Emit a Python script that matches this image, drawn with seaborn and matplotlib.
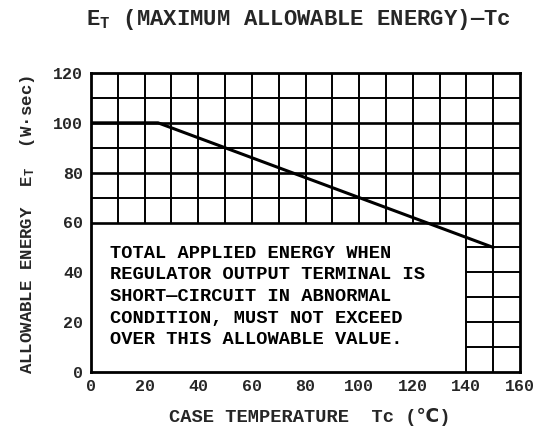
import matplotlib
matplotlib.use("Agg")
import matplotlib.pyplot as plt
import seaborn as sns
import numpy as np

# ---- data ----
temp = [0, 25, 150]            # case temperature Tc (degC)
energy = [100, 100, 50]        # allowable energy E_T (W.sec)
x_ticks = [0, 20, 40, 60, 80, 100, 120, 140, 160]
y_ticks = [0, 20, 40, 60, 80, 100, 120]
note_lines = [
    "TOTAL APPLIED ENERGY WHEN",
    "REGULATOR OUTPUT TERMINAL IS",
    "SHORT\u2014CIRCUIT IN ABNORMAL",
    "CONDITION, MUST NOT EXCEED",
    "OVER THIS ALLOWABLE VALUE.",
]
title = "$\\mathregular{E_T}$ (MAXIMUM ALLOWABLE ENERGY)\u2014Tc"
xlabel = "CASE TEMPERATURE  Tc (\u2103)"
ylabel = "ALLOWABLE ENERGY  $\\mathregular{E_T}$  (W\u00b7sec)"
BOX_X, BOX_Y = 140, 60   # extent of the note box (data units)

sns.set_style("white")
plt.rcParams["font.family"] = ["Liberation Mono", "DejaVu Sans"]
plt.rcParams["font.weight"] = "bold"
plt.rcParams["mathtext.fontset"] = "custom"
plt.rcParams["mathtext.rm"] = "Liberation Mono:bold"
plt.rcParams["mathtext.it"] = "Liberation Mono:bold"
plt.rcParams["mathtext.bf"] = "Liberation Mono:bold"

W, H = 543, 434
fig = plt.figure(figsize=(W / 100, H / 100), dpi=100)
L, R, T, B = 91, 520, 73, 372
ax = fig.add_axes([L / W, 1 - B / H, (R - L) / W, (B - T) / H])

ax.set_xlim(0, 160)
ax.set_ylim(0, 120)

# grid (cut out by the note box)
gw = 1.4
for xv in range(10, 160, 10):
    y0 = 0 if xv >= BOX_X else BOX_Y
    ax.vlines(xv, y0, 120, color="black", lw=gw, zorder=1)
for yv in range(10, 120, 10):
    x0 = 0 if yv >= BOX_Y else BOX_X
    ax.hlines(yv, x0, 160, color="black", lw=gw + (0.5 if yv in (60, 80, 100) else 0), zorder=1)

sns.lineplot(x=temp, y=energy, ax=ax, color="black", lw=2.2,
             estimator=None, sort=False, zorder=3)

ax.text(7, 30.3, "\n".join(note_lines), ha="left", va="center",
        fontsize=13.5, linespacing=1.36, color="black")

ax.set_xticks(x_ticks)
ax.set_yticks(y_ticks)
ax.set_xticks(range(0, 161, 10), minor=True)
ax.set_yticks(range(0, 121, 10), minor=True)
ax.tick_params(which="both", direction="in", length=5, width=1.4, color="black")
ax.tick_params(axis="x", which="major", labelsize=12, pad=5)
ax.tick_params(axis="y", which="major", labelsize=12, pad=5.5)
for s in ax.spines.values():
    s.set_linewidth(2)
    s.set_color("black")
ax.set_xlabel("")
ax.set_ylabel("")

fig.text(298 / W, 1 - 19 / H, title, ha="center", va="center", fontsize=16)
fig.text(310 / W, 1 - 417 / H, xlabel, ha="center", va="center", fontsize=13.5)
fig.text(28 / W, 1 - 225 / H, ylabel, ha="center", va="center", rotation=90, fontsize=12.5)

fig.savefig("out.png", dpi=100, facecolor="white")
